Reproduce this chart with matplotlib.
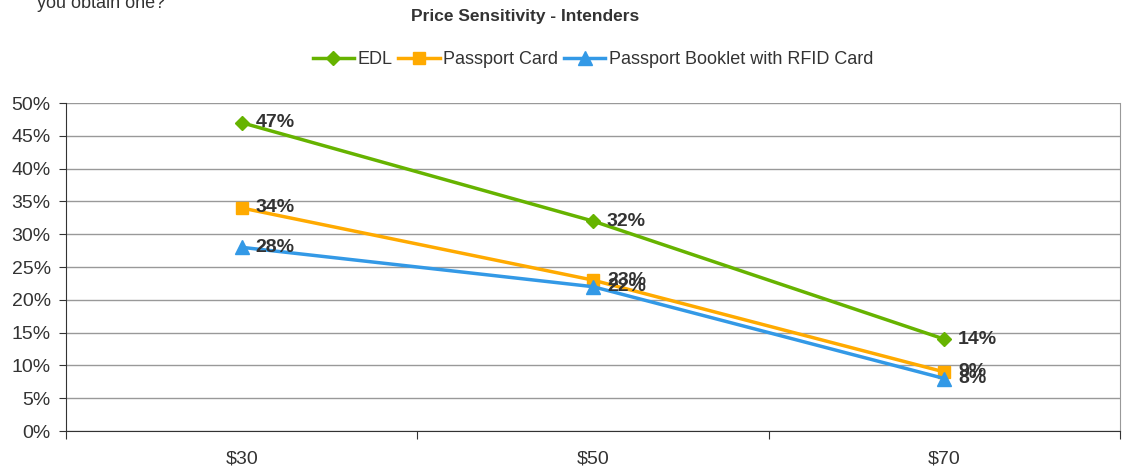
import matplotlib.pyplot as plt
import numpy as np

plt.rcParams['font.family'] = ['Liberation Sans', 'DejaVu Sans']

prices = ['$30', '$50', '$70']
edl = [47, 32, 14]
passport_card = [34, 23, 9]
passport_booklet = [28, 22, 8]

fig = plt.figure(figsize=(11.26, 4.71), dpi=100)
ax = fig.add_axes([66/1126, 1 - 431/471, (1120 - 66)/1126, (431 - 103)/471])

x = np.arange(len(prices))
series = [
    ('EDL', edl, '#66b300', 'D', 7),
    ('Passport Card', passport_card, '#ffaa00', 's', 8),
    ('Passport Booklet with RFID Card', passport_booklet, '#3399e6', '^', 9.5),
]
for name, vals, col, mk, ms in series:
    ax.plot(x, vals, color=col, lw=2.5, marker=mk, markersize=ms, label=name)
    for xi, v in zip(x, vals):
        ax.annotate(f'{v}%', (xi, v), xytext=(10, 0), textcoords='offset points',
                    va='center', ha='left', fontsize=14, fontweight='bold', color='#333333')

ax.set_xlim(-0.5, 2.5)
ax.set_ylim(0, 50)
ax.set_yticks(range(0, 51, 5))
ax.set_yticklabels([f'{v}%' for v in range(0, 51, 5)])
ax.yaxis.grid(True, color='#999999', lw=1)
ax.set_axisbelow(True)
ax.set_xticks([-0.5, 0.5, 1.5, 2.5])
ax.set_xticklabels([])
ax.set_xticks(x, minor=True)
ax.set_xticklabels(prices, minor=True)
ax.tick_params(axis='x', which='minor', length=0, pad=14, labelsize=14, labelcolor='#333333')
ax.tick_params(axis='x', which='major', length=6, direction='out', color='#333333')
ax.tick_params(axis='y', length=5, direction='out', pad=6, labelsize=14, labelcolor='#333333', color='#333333')
ax.spines['top'].set_visible(False)
ax.spines['right'].set_color('#999999')
ax.spines['left'].set_color('#333333')
ax.spines['bottom'].set_color('#333333')

fig.text(525/1126, 1 - 16/471, 'Price Sensitivity - Intenders', ha='center', va='center',
         fontsize=12.5, fontweight='bold', color='#333333')
fig.text(37/1126, 1 - 8/471, 'you obtain one?', ha='left', va='baseline', fontsize=13, color='#333333')

fig.legend(loc='center', bbox_to_anchor=(593/1126, 1 - 60/471), ncol=3, frameon=False,
           fontsize=13, handlelength=2.3, columnspacing=0.3, handletextpad=0.2, labelcolor='#333333')

fig.savefig('out.png', dpi=100)
